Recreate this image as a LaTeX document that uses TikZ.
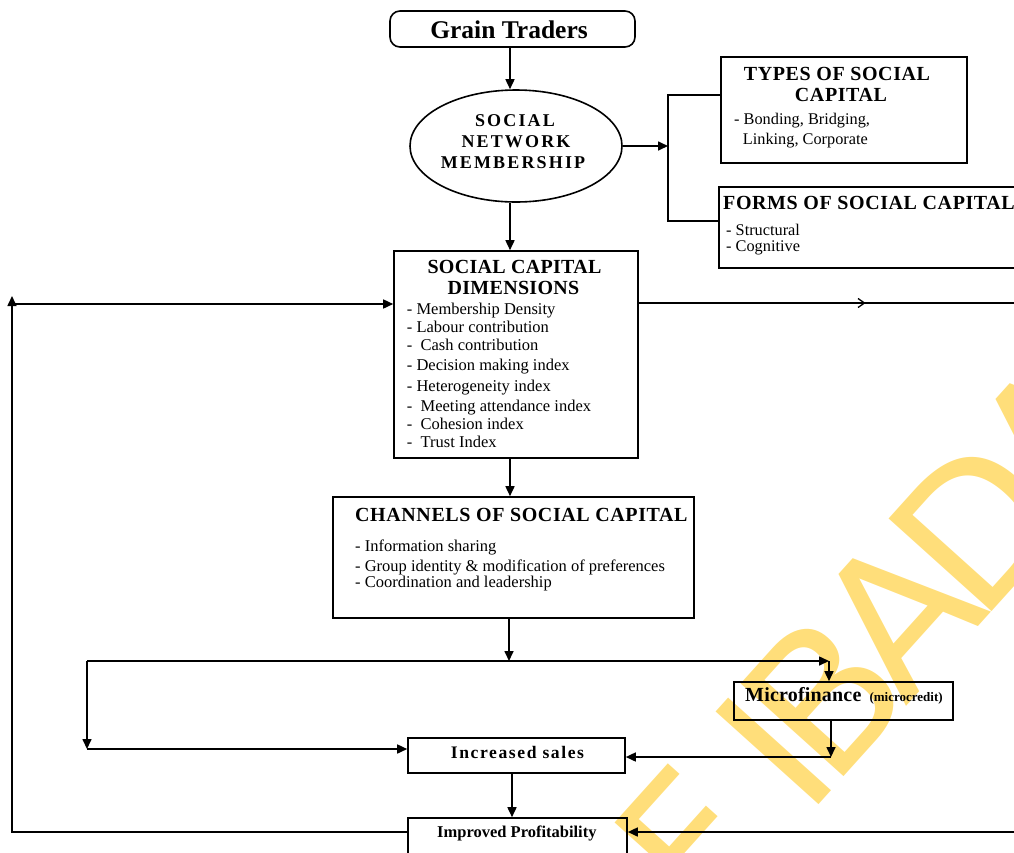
\documentclass[tikz,border=0pt]{standalone}
\usepackage{fontspec}
\setmainfont{Liberation Serif}
\newfontfamily\wmfont[LetterSpace=-10]{DejaVu Sans}
\usetikzlibrary{arrows.meta,shapes.geometric}
\definecolor{wmcol}{RGB}{255,222,122}
\newcommand\fb[2]{\fontsize{#1}{#1}\selectfont\bfseries\addfontfeature{LetterSpace=#2}}
\newcommand\fr[1]{\fontsize{#1}{#1}\selectfont}
\tikzset{
  box/.style={draw, line width=1.6pt, rectangle, inner sep=0pt},
  ln/.style={line width=1.6pt},
  arr/.style={line width=1.6pt, -{Triangle[length=10pt,width=9pt]}},
  tw/.style={inner sep=0pt, anchor=base west},
  tc/.style={inner sep=0pt, anchor=base},
}
\begin{document}
\begin{tikzpicture}[x=1pt,y=-1pt]
\useasboundingbox (0,0) rectangle (1014,852);
\clip (0,0) rectangle (1014,852);
% watermark
\node[text=wmcol, font=\wmfont\fontsize{190}{190}\selectfont, rotate=48, anchor=base west, inner sep=0pt] (wmk) at (618,1027) {OF IBADAN};

% boxes
\node[box, rounded corners=10pt, minimum width=245pt, minimum height=36pt] (gt) at (512.5,29) {};
\node[draw, ellipse, line width=1.6pt, minimum width=212pt, minimum height=112pt, inner sep=0pt] (snm) at (516,146) {};
\node[box, minimum width=246pt, minimum height=106pt] (types) at (844,110) {};
\node[box, minimum width=320pt, minimum height=81pt] (forms) at (879,227.5) {};
\node[box, minimum width=244pt, minimum height=207pt] (dims) at (516,354.5) {};
\node[box, minimum width=361pt, minimum height=121pt] (chan) at (513.5,557.5) {};
\node[box, minimum width=219pt, minimum height=38pt] (micro) at (843.5,701) {};
\node[box, minimum width=217pt, minimum height=35pt] (sales) at (516.5,755.5) {};
\node[box, minimum width=219pt, minimum height=52pt] (impr) at (517.5,844) {};

% texts
\node[tc, font=\fb{25.5}{0}] (t-gt) at (509,38.3) {Grain Traders};
\node[tc, font=\fb{18}{12}] (t-snm1) at (515,126) {SOCIAL};
\node[tc, font=\fb{18}{12}] (t-snm2) at (516,147.3) {NETWORK};
\node[tc, font=\fb{18}{12}] (t-snm3) at (513,168.3) {MEMBERSHIP};

\node[tc, font=\fb{20}{3}] (t-ty1) at (837,80) {TYPES OF SOCIAL};
\node[tc, font=\fb{20}{3}] (t-ty2) at (841,101.7) {CAPITAL};
\node[tw, font=\fr{16.3}] (t-ty3) at (734,124) {- Bonding, Bridging,};
\node[tw, font=\fr{16.3}] (t-ty4) at (742.7,144) {Linking, Corporate};

\node[tw, font=\fb{20}{3}] (t-fo1) at (723,209.3) {FORMS OF SOCIAL CAPITAL};
\node[tw, font=\fr{16.3}] (t-fo2) at (726,235.7) {- Structural};
\node[tw, font=\fr{16.3}] (t-fo3) at (726,251.7) {- Cognitive};

\node[tc, font=\fb{20}{1.5}] (t-di1) at (514.5,273.3) {SOCIAL CAPITAL};
\node[tc, font=\fb{20}{1.5}] (t-di2) at (513.5,294.3) {DIMENSIONS};
\node[tw, font=\fr{16.5}] (t-di3) at (406.7,314.8) {- Membership Density};
\node[tw, font=\fr{16.5}] (t-di4) at (406.7,332.4) {- Labour contribution};
\node[tw, font=\fr{16.5}] (t-di5) at (406.7,350.2) {-~ Cash contribution};
\node[tw, font=\fr{16.5}] (t-di6) at (406.7,370.2) {- Decision making index};
\node[tw, font=\fr{16.5}] (t-di7) at (406.7,391.2) {- Heterogeneity index};
\node[tw, font=\fr{16.5}] (t-di8) at (406.7,411) {-~ Meeting attendance index};
\node[tw, font=\fr{16.5}] (t-di9) at (406.7,429.4) {-~ Cohesion index};
\node[tw, font=\fr{16.5}] (t-di10) at (406.7,447) {-~ Trust Index};

\node[tw, font=\fb{20}{3}] (t-ch1) at (355,521.7) {CHANNELS OF SOCIAL CAPITAL};
\node[tw, font=\fr{16.5}] (t-ch2) at (355,551.5) {- Information sharing};
\node[tw, font=\fr{16.5}] (t-ch3) at (355,571.5) {- Group identity \& modification of preferences};
\node[tw, font=\fr{16.5}] (t-ch4) at (355,587) {- Coordination and leadership};

\node[tw, font=\fb{20}{1}] (t-mi1) at (745,701.7) {Microfinance};
\node[tw, font=\fb{13}{0}] (t-mi2) at (869.3,701.7) {(microcredit)};
\node[tw, font=\fb{17.6}{9}] (t-sa) at (450.7,758.3) {Increased sales};
\node[tw, font=\fb{16.5}{0}] (t-im) at (437,837.5) {Improved Profitability};

% connector helper coordinates
\coordinate (ax) at (510,0);
\coordinate (bt) at (668,95);
\coordinate (bb) at (668,221);
\coordinate (cx) at (509,661);
\coordinate (hl) at (87,661);
\coordinate (hr) at (829,661);
\coordinate (ll) at (87,749);
\coordinate (mx) at (831,757);
\coordinate (sx) at (512,0);
\coordinate (lb) at (12,832);
\coordinate (lt) at (12,296);
\coordinate (lh) at (12,304);
\coordinate (rr) at (1030,303);
\coordinate (rb) at (1030,832);
\coordinate (chev) at (864.5,303);

% connectors
\draw[arr] (gt.south -| ax) -- (snm.north -| ax);
\draw[arr] (snm.east) -- (snm.east -| bt);
\draw[ln] (types.west |- bt) -- (bt) -- (bb) -- (forms.west |- bb);
\draw[arr] (snm.south -| ax) -- (dims.north -| ax);
\draw[arr] (dims.south -| ax) -- (chan.north -| ax);
\draw[arr] (chan.south -| cx) -- (cx);
\draw[arr] (hl) -- (hr);
\draw[arr] (hr) -- (micro.north -| hr);
\draw[arr] (hl) -- (ll);
\draw[arr] (ll) -- (sales.west |- ll);
\draw[arr] (micro.south -| mx) -- (mx);
\draw[arr] (mx) -- (sales.east |- mx);
\draw[arr] (sales.south -| sx) -- (impr.north -| sx);
\draw[arr] (impr.west |- lb) -- (lb) -- (lt);
\draw[arr] (lh) -- (dims.west |- lh);
\draw[ln] (dims.east |- rr) -- (rr);
\draw[line width=1.3pt] ([shift={(-6.5,-4.5)}]chev) -- (chev) -- ([shift={(-6.5,4.5)}]chev);
\draw[arr] (rb) -- (impr.east |- rb);
\end{tikzpicture}
\end{document}
